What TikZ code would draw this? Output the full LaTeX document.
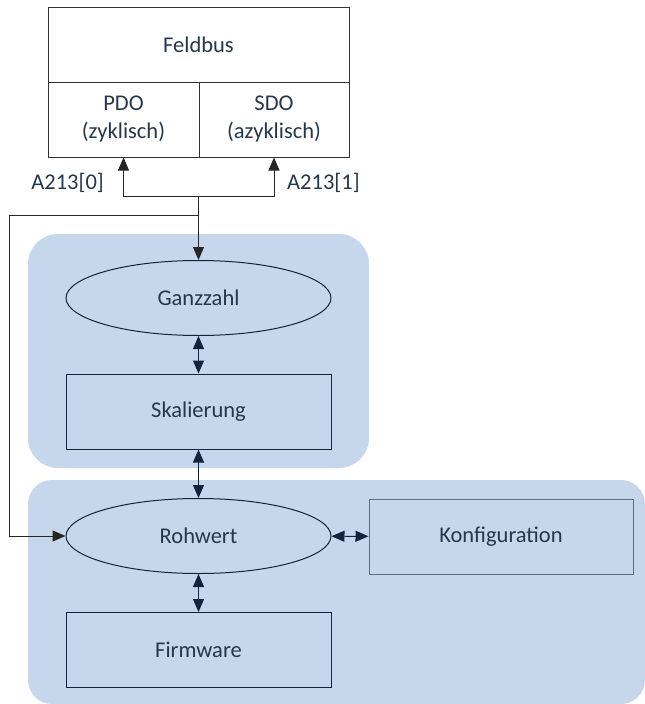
\documentclass[tikz,border=0pt]{standalone}
\usepackage{fontspec}
\setmainfont{Carlito}
\usetikzlibrary{arrows.meta,positioning,calc,shapes.geometric}
\definecolor{fbBlue}{HTML}{C6D7EB}
\definecolor{fbNavy}{HTML}{12243A}
\definecolor{fbText}{HTML}{26374C}
\definecolor{fbGrey}{HTML}{5E6E80}

\begin{document}
\begin{tikzpicture}[x=1pt, y=-1pt,
  grp/.style={fill=fbBlue, draw=none, rounded corners=30pt, inner sep=0pt},
  cell/.style={draw=black!80, line width=1pt, minimum height=75pt, align=center, font=\fontsize{22.5}{28}\selectfont, text=fbText, inner sep=0pt},
  blk/.style={draw=fbNavy, line width=1pt, minimum width=265pt, minimum height=75pt, font=\fontsize{22.5}{28}\selectfont, text=fbText, inner sep=0pt},
  elp/.style={blk, ellipse},
  arr/.style={-{Triangle[length=13pt, width=11pt]}, black!85, line width=1pt},
  dbl/.style={{Triangle[length=13pt, width=11pt]}-{Triangle[length=13pt, width=11pt]}, fbNavy, line width=1pt},
  lbl/.style={font=\fontsize{22.5}{28}\selectfont, text=fbText, inner sep=0pt}]
\useasboundingbox (0,0) rectangle (645,704);
\node[grp, minimum width=341pt, minimum height=234pt] (g1) at (198.5,351) {};
\node[grp, minimum width=617pt, minimum height=224pt, rounded corners=24pt] (g2) at (336.5,592) {};
\node[cell, minimum width=301pt] (fb) at (198.5,44.5) {Feldbus};
\node[cell, minimum width=151pt] (pdo) at (123.5,119.5) {PDO\\(zyklisch)};
\node[cell, minimum width=150pt] (sdo) at (274,119.5) {SDO\\(azyklisch)};
\node[elp] (gz) at (198.5,298) {Ganzzahl};
\node[blk] (sk) at (198.5,411.5) {Skalierung};
\node[elp] (rw) at (198.5,536) {Rohwert};
\node[blk, draw=fbGrey, minimum width=264pt] (kf) at (501,536.5) {Konfiguration};
\node[blk] (fw) at (198.5,650) {Firmware};
\coordinate (j) at (198.5,196);
\coordinate (b) at (198.5,215);
\coordinate (l) at (9,215);
\draw[arr] (j) -| (pdo);
\draw[arr] (j) -| (sdo);
\draw[arr] (j) -- (gz);
\draw[arr] (b) -- (l) |- (rw);
\foreach \a/\b in {gz/sk,sk/rw,rw/fw,rw/kf}{\draw[dbl] (\a) -- (\b);}
\node[lbl, anchor=east] (a0) at (104,183) {A213[0]};
\node[lbl, anchor=west] (a1) at (287,183) {A213[1]};
\end{tikzpicture}
\end{document}
